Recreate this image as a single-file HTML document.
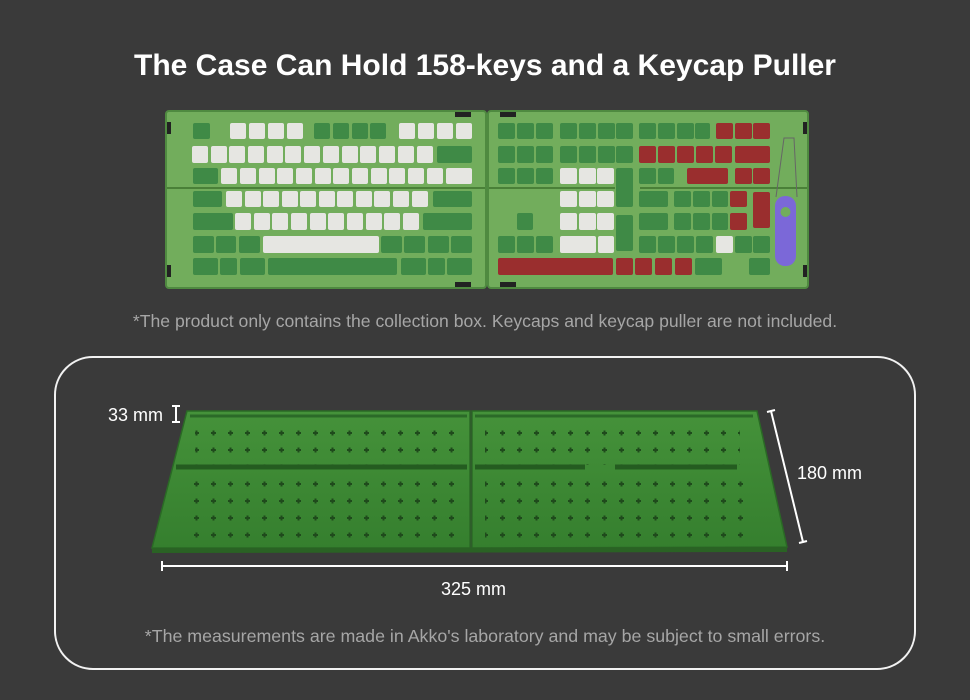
<!DOCTYPE html>
<html><head><meta charset="utf-8"><style>
html,body{margin:0;padding:0;background:#3a3a3a;}
body{width:970px;height:700px;overflow:hidden;position:relative;font-family:"Liberation Sans",sans-serif;}
.t{position:absolute;left:0;width:970px;text-align:center;color:#fff;}
</style></head><body>
<svg width="970" height="700" style="position:absolute;left:0;top:0">
<defs>
<pattern id="cr" x="0" y="0" width="17" height="17" patternUnits="userSpaceOnUse">
<path d="M7 8h5M9.5 5.5v5" stroke="#1f4a1c" stroke-width="2"/>
</pattern>
<linearGradient id="tr" x1="0" y1="0" x2="0" y2="1"><stop offset="0" stop-color="#45923a"/><stop offset="1" stop-color="#357f2e"/></linearGradient>
</defs>
<rect width="970" height="700" fill="#3a3a3a"/>
<g stroke="#4f8a40" stroke-width="2" fill="#72ad5c">
<rect x="166" y="111" width="320" height="177" rx="3"/>
<rect x="488" y="111" width="320" height="177" rx="3"/>
</g>
<path d="M167 188H485M489 188H615M640 188H807" stroke="#4a8038" stroke-width="2"/>
<g fill="#222"><rect x="455" y="112" width="16" height="5"/><rect x="455" y="282" width="16" height="5"/><rect x="500" y="112" width="16" height="5"/><rect x="500" y="282" width="16" height="5"/><rect x="167" y="122" width="4" height="12"/><rect x="167" y="265" width="4" height="12"/><rect x="803" y="122" width="4" height="12"/><rect x="803" y="265" width="4" height="12"/></g>
<g fill="#3f8a46">
<rect x="193" y="123" width="17" height="16" rx="2"/>
<rect x="314" y="123" width="16" height="16" rx="2"/><rect x="333" y="123" width="16" height="16" rx="2"/><rect x="352" y="123" width="16" height="16" rx="2"/><rect x="370" y="123" width="16" height="16" rx="2"/>
<rect x="437" y="146" width="35" height="17" rx="2"/>
<rect x="193" y="168" width="25" height="16" rx="2"/>
<rect x="193" y="191" width="29" height="16" rx="2"/><rect x="433" y="191" width="39" height="16" rx="2"/>
<rect x="193" y="213" width="40" height="17" rx="2"/><rect x="423" y="213" width="49" height="17" rx="2"/>
<rect x="193" y="236" width="21" height="17" rx="2"/><rect x="216" y="236" width="20" height="17" rx="2"/><rect x="239" y="236" width="21" height="17" rx="2"/>
<rect x="381" y="236" width="21" height="17" rx="2"/><rect x="404" y="236" width="21" height="17" rx="2"/><rect x="428" y="236" width="21" height="17" rx="2"/><rect x="451" y="236" width="21" height="17" rx="2"/>
<rect x="193" y="258" width="25" height="17" rx="2"/><rect x="220" y="258" width="17" height="17" rx="2"/><rect x="240" y="258" width="25" height="17" rx="2"/>
<rect x="268" y="258" width="129" height="17" rx="2"/>
<rect x="401" y="258" width="25" height="17" rx="2"/><rect x="428" y="258" width="17" height="17" rx="2"/><rect x="447" y="258" width="25" height="17" rx="2"/>
</g>
<g fill="#e6e6e2">
<rect x="230" y="123" width="16" height="16" rx="2"/><rect x="249" y="123" width="16" height="16" rx="2"/><rect x="268" y="123" width="16" height="16" rx="2"/><rect x="287" y="123" width="16" height="16" rx="2"/>
<rect x="399" y="123" width="16" height="16" rx="2"/><rect x="418" y="123" width="16" height="16" rx="2"/><rect x="437" y="123" width="16" height="16" rx="2"/><rect x="456" y="123" width="16" height="16" rx="2"/>
<rect x="263" y="236" width="116" height="17" rx="2"/>
</g>
<g fill="#e6e6e2">
<rect x="192" y="146" width="16" height="17" rx="2"/><rect x="211" y="146" width="16" height="17" rx="2"/><rect x="229" y="146" width="16" height="17" rx="2"/><rect x="248" y="146" width="16" height="17" rx="2"/><rect x="267" y="146" width="16" height="17" rx="2"/><rect x="285" y="146" width="16" height="17" rx="2"/><rect x="304" y="146" width="16" height="17" rx="2"/><rect x="323" y="146" width="16" height="17" rx="2"/><rect x="342" y="146" width="16" height="17" rx="2"/><rect x="360" y="146" width="16" height="17" rx="2"/><rect x="379" y="146" width="16" height="17" rx="2"/><rect x="398" y="146" width="16" height="17" rx="2"/><rect x="417" y="146" width="16" height="17" rx="2"/>
<rect x="221" y="168" width="16" height="16" rx="2"/><rect x="240" y="168" width="16" height="16" rx="2"/><rect x="259" y="168" width="16" height="16" rx="2"/><rect x="277" y="168" width="16" height="16" rx="2"/><rect x="296" y="168" width="16" height="16" rx="2"/><rect x="315" y="168" width="16" height="16" rx="2"/><rect x="333" y="168" width="16" height="16" rx="2"/><rect x="352" y="168" width="16" height="16" rx="2"/><rect x="371" y="168" width="16" height="16" rx="2"/><rect x="389" y="168" width="16" height="16" rx="2"/><rect x="408" y="168" width="16" height="16" rx="2"/><rect x="427" y="168" width="16" height="16" rx="2"/><rect x="446" y="168" width="26" height="16" rx="2"/>
<rect x="226" y="191" width="16" height="16" rx="2"/><rect x="245" y="191" width="16" height="16" rx="2"/><rect x="263" y="191" width="16" height="16" rx="2"/><rect x="282" y="191" width="16" height="16" rx="2"/><rect x="300" y="191" width="16" height="16" rx="2"/><rect x="319" y="191" width="16" height="16" rx="2"/><rect x="337" y="191" width="16" height="16" rx="2"/><rect x="356" y="191" width="16" height="16" rx="2"/><rect x="374" y="191" width="16" height="16" rx="2"/><rect x="393" y="191" width="16" height="16" rx="2"/><rect x="412" y="191" width="16" height="16" rx="2"/>
<rect x="235" y="213" width="16" height="17" rx="2"/><rect x="254" y="213" width="16" height="17" rx="2"/><rect x="272" y="213" width="16" height="17" rx="2"/><rect x="291" y="213" width="16" height="17" rx="2"/><rect x="310" y="213" width="16" height="17" rx="2"/><rect x="328" y="213" width="16" height="17" rx="2"/><rect x="347" y="213" width="16" height="17" rx="2"/><rect x="366" y="213" width="16" height="17" rx="2"/><rect x="384" y="213" width="16" height="17" rx="2"/><rect x="403" y="213" width="16" height="17" rx="2"/>
</g>
<g fill="#3f8a46">
<rect x="498" y="123" width="17" height="16" rx="2"/><rect x="517" y="123" width="17" height="16" rx="2"/><rect x="536" y="123" width="17" height="16" rx="2"/>
<rect x="560" y="123" width="17" height="16" rx="2"/><rect x="579" y="123" width="17" height="16" rx="2"/><rect x="598" y="123" width="17" height="16" rx="2"/><rect x="616" y="123" width="17" height="16" rx="2"/>
<rect x="639" y="123" width="17" height="16" rx="2"/><rect x="658" y="123" width="17" height="16" rx="2"/><rect x="677" y="123" width="17" height="16" rx="2"/><rect x="695" y="123" width="15" height="16" rx="2"/>
<rect x="498" y="146" width="17" height="17" rx="2"/><rect x="517" y="146" width="17" height="17" rx="2"/><rect x="536" y="146" width="17" height="17" rx="2"/><rect x="560" y="146" width="17" height="17" rx="2"/><rect x="579" y="146" width="17" height="17" rx="2"/><rect x="598" y="146" width="17" height="17" rx="2"/><rect x="616" y="146" width="17" height="17" rx="2"/>
<rect x="498" y="168" width="17" height="16" rx="2"/><rect x="517" y="168" width="17" height="16" rx="2"/><rect x="536" y="168" width="17" height="16" rx="2"/>
<rect x="616" y="168" width="17" height="39" rx="2"/><rect x="616" y="215" width="17" height="36" rx="2"/>
<rect x="639" y="168" width="17" height="16" rx="2"/><rect x="658" y="168" width="16" height="16" rx="2"/>
<rect x="639" y="191" width="29" height="16" rx="2"/><rect x="674" y="191" width="17" height="16" rx="2"/><rect x="693" y="191" width="17" height="16" rx="2"/><rect x="712" y="191" width="16" height="16" rx="2"/>
<rect x="517" y="213" width="16" height="17" rx="2"/>
<rect x="639" y="213" width="29" height="17" rx="2"/><rect x="674" y="213" width="17" height="17" rx="2"/><rect x="693" y="213" width="17" height="17" rx="2"/><rect x="712" y="213" width="16" height="17" rx="2"/>
<rect x="498" y="236" width="17" height="17" rx="2"/><rect x="517" y="236" width="17" height="17" rx="2"/><rect x="536" y="236" width="17" height="17" rx="2"/>
<rect x="639" y="236" width="17" height="17" rx="2"/><rect x="658" y="236" width="17" height="17" rx="2"/><rect x="677" y="236" width="17" height="17" rx="2"/><rect x="696" y="236" width="17" height="17" rx="2"/>
<rect x="735" y="236" width="17" height="17" rx="2"/><rect x="753" y="236" width="17" height="17" rx="2"/>
<rect x="695" y="258" width="27" height="17" rx="2"/><rect x="749" y="258" width="21" height="17" rx="2"/>
</g>
<g fill="#e6e6e2">
<rect x="560" y="168" width="17" height="16" rx="2"/><rect x="579" y="168" width="17" height="16" rx="2"/><rect x="597" y="168" width="17" height="16" rx="2"/>
<rect x="560" y="191" width="17" height="16" rx="2"/><rect x="579" y="191" width="17" height="16" rx="2"/><rect x="597" y="191" width="17" height="16" rx="2"/>
<rect x="560" y="213" width="17" height="17" rx="2"/><rect x="579" y="213" width="17" height="17" rx="2"/><rect x="597" y="213" width="17" height="17" rx="2"/>
<rect x="560" y="236" width="36" height="17" rx="2"/><rect x="598" y="236" width="16" height="17" rx="2"/>
<rect x="716" y="236" width="17" height="17" rx="2"/>
</g>
<g fill="#9a2e2e">
<rect x="716" y="123" width="17" height="16" rx="2"/><rect x="735" y="123" width="17" height="16" rx="2"/><rect x="753" y="123" width="17" height="16" rx="2"/>
<rect x="639" y="146" width="17" height="17" rx="2"/><rect x="658" y="146" width="17" height="17" rx="2"/><rect x="677" y="146" width="17" height="17" rx="2"/><rect x="696" y="146" width="17" height="17" rx="2"/><rect x="715" y="146" width="17" height="17" rx="2"/><rect x="735" y="146" width="35" height="17" rx="2"/>
<rect x="687" y="168" width="41" height="16" rx="2"/><rect x="735" y="168" width="17" height="16" rx="2"/><rect x="753" y="168" width="17" height="16" rx="2"/>
<rect x="730" y="191" width="17" height="16" rx="2"/><rect x="753" y="192" width="17" height="36" rx="2"/>
<rect x="730" y="213" width="17" height="17" rx="2"/>
<rect x="498" y="258" width="115" height="17" rx="2"/>
<rect x="616" y="258" width="17" height="17" rx="2"/><rect x="635" y="258" width="17" height="17" rx="2"/><rect x="655" y="258" width="17" height="17" rx="2"/><rect x="675" y="258" width="17" height="17" rx="2"/>
</g>
<path d="M776 197 L784 138 L794 138 L797 197" fill="none" stroke="#666" stroke-width="1"/>
<rect x="775" y="196" width="21" height="70" rx="10" fill="#7b68d8"/>
<circle cx="785.5" cy="212" r="5" fill="#72ad5c"/>
<rect x="55" y="357" width="860" height="312" rx="38" fill="none" stroke="#f2f2f2" stroke-width="2"/>
<path d="M187 411 L470 411 L470 548 L152 548 Z" fill="url(#tr)" stroke="#2a6a25" stroke-width="1.5"/>
<path d="M472 411 L757 411 L787 547 L472 548 Z" fill="url(#tr)" stroke="#2a6a25" stroke-width="1.5"/>
<path d="M152 548 L787 547 L787 552 L152 553Z" fill="#2a6224"/>
<path d="M190 416 L467 416 M475 416 L753 416" stroke="#2b6a28" stroke-width="3"/>
<path d="M176 467 L467 467 M475 467 L585 467 M615 467 L737 467" stroke="#245c20" stroke-width="5"/>
<rect x="195" y="425" width="270" height="40" fill="url(#cr)"/>
<rect x="190" y="475" width="275" height="66" fill="url(#cr)"/>
<rect x="485" y="425" width="255" height="40" fill="url(#cr)"/>
<rect x="485" y="475" width="265" height="66" fill="url(#cr)"/>
<g stroke="#fff" stroke-width="2" fill="none">
<path d="M176 406V422M172 406H180M172 422H180"/>
<path d="M771 411L803 542M767 412L775 410M799 543L807 541"/>
<path d="M162 566H787M162 561V571M787 561V571"/>
</g>
</svg>
<div class="t" style="top:49px;font-size:30px;font-weight:bold;">The Case Can Hold 158-keys and a Keycap Puller</div>
<div class="t" style="top:311px;font-size:17.6px;color:#a6a6a6;">*The product only contains the collection box. Keycaps and keycap puller are not included.</div>
<div style="position:absolute;left:108px;top:405px;color:#fff;font-size:18px;">33 mm</div>
<div style="position:absolute;left:797px;top:463px;color:#fff;font-size:18px;">180 mm</div>
<div style="position:absolute;left:441px;top:579px;color:#fff;font-size:18px;">325 mm</div>
<div class="t" style="top:626px;font-size:17.8px;color:#a6a6a6;">*The measurements are made in Akko's laboratory and may be subject to small errors.</div>
</body></html>
